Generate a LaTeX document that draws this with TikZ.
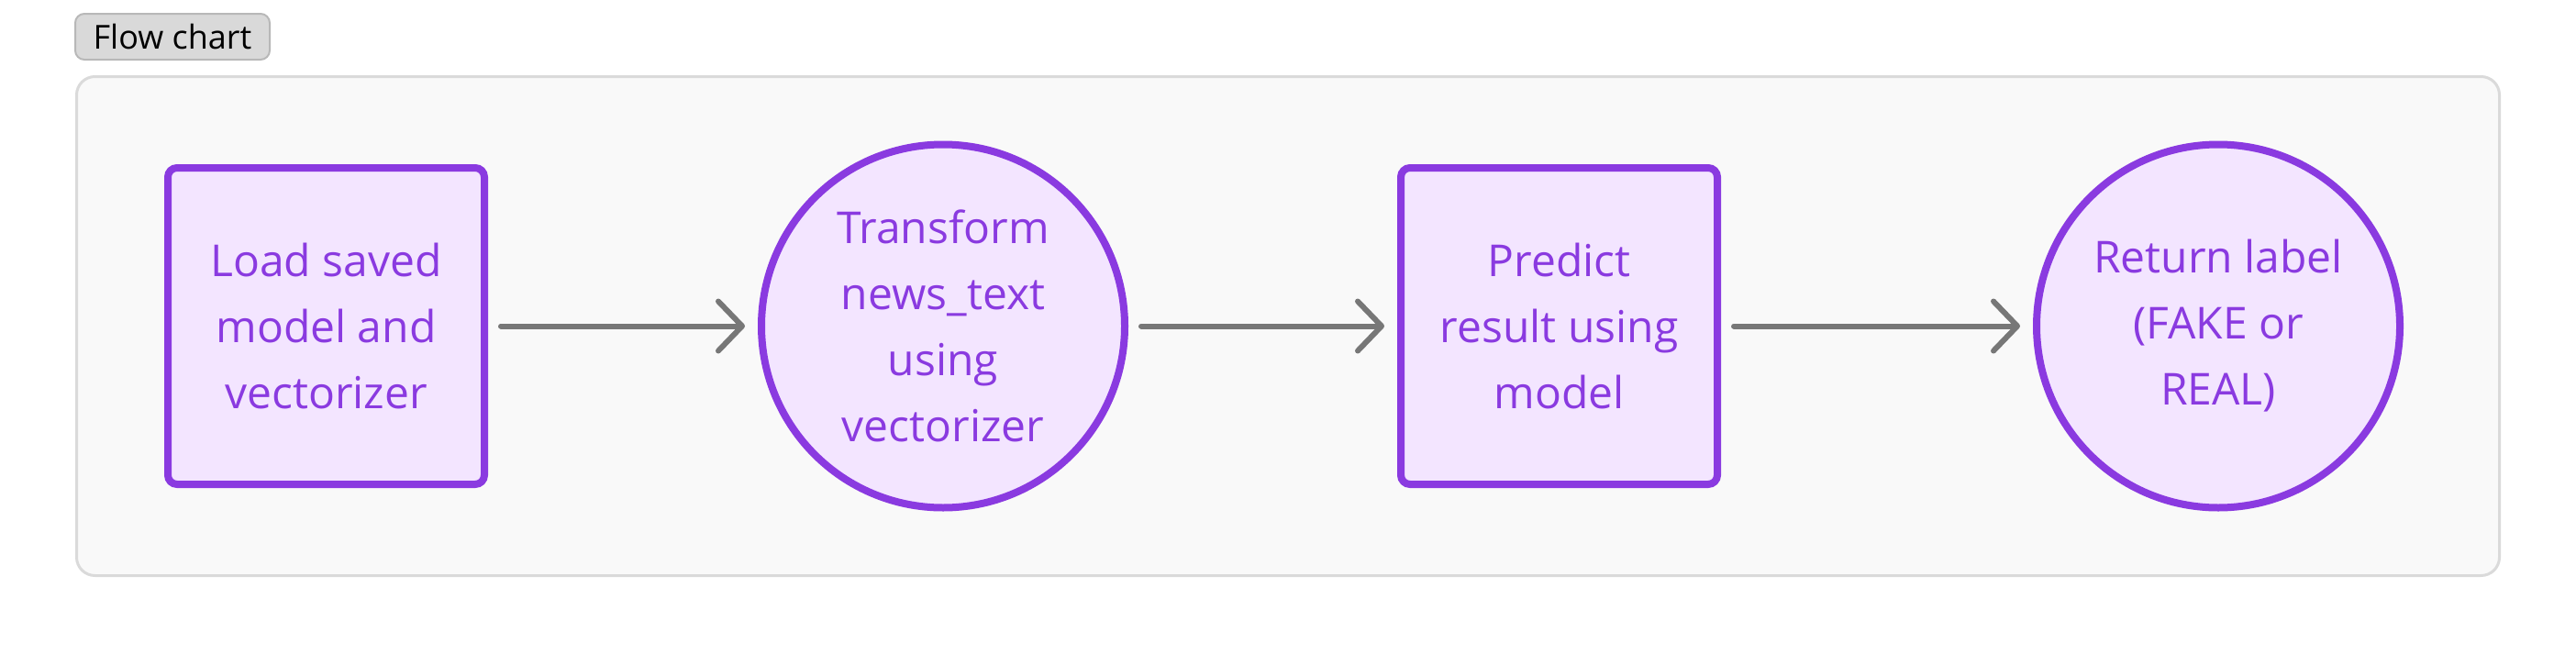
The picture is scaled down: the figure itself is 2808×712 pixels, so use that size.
\documentclass[tikz,border=0pt]{standalone}
\usepackage{fontspec}
\setmainfont{Open Sans}
\usetikzlibrary{arrows.meta,positioning}
\definecolor{flowpurple}{HTML}{8A3AE0}
\definecolor{flowfill}{HTML}{F3E5FF}
\definecolor{framegray}{HTML}{DADADA}
\definecolor{framefill}{HTML}{F9F9F9}
\definecolor{tabfill}{HTML}{D9D9D9}
\definecolor{tabedge}{HTML}{B8B8B8}
\definecolor{edgegray}{HTML}{777777}
\tikzset{
	procbox/.style={rectangle,rounded corners=5pt,draw=flowpurple,fill=flowfill,line width=4pt,minimum size=172.5pt,inner sep=0pt,text=flowpurple,align=center,font=\fontsize{24}{36}\selectfont},
	proccirc/.style={circle,draw=flowpurple,fill=flowfill,line width=4pt,minimum size=198pt,inner sep=0pt,text=flowpurple,align=center,font=\fontsize{24}{36}\selectfont},
	frame/.style={rectangle,rounded corners=10pt,draw=framegray,fill=framefill,line width=1.5pt,minimum width=1320.5pt,minimum height=272pt,inner sep=0pt},
	tab/.style={rectangle,rounded corners=5pt,draw=tabedge,fill=tabfill,line width=1pt,minimum width=106pt,minimum height=25pt,inner sep=0pt,font=\fontsize{18}{22}\selectfont},
	diredge/.style={-{Straight Barb[length=13pt,width=27pt,round]},draw=edgegray,line width=3pt,line cap=round,shorten <=7pt,shorten >=7pt}
}

\begin{document}
\begin{tikzpicture}[x=0.5pt,y=-0.5pt]
	\useasboundingbox (0,0) rectangle (2808,712);
	%%%% container
	\node[frame] (frame) at (1404,355.5) {};
	\node[tab] (title) at (188,40) {Flow chart};
	
	%%%% steps
	\node[procbox] (load) at (355.5,355.5) {Load saved\\model and\\vectorizer};
	\node[proccirc] (trans) at (1028,355.5) {Transform\\news\_text\\using\\vectorizer};
	\node[procbox] (pred) at (1699.5,355.5) {Predict\\result using\\model};
	\node[proccirc] (ret) at (2418,355.5) {Return label\\(FAKE or\\REAL)};
	
	\draw[diredge] (load) -- (trans);
	\draw[diredge] (trans) -- (pred);
	\draw[diredge] (pred) -- (ret);
\end{tikzpicture}
\end{document}
